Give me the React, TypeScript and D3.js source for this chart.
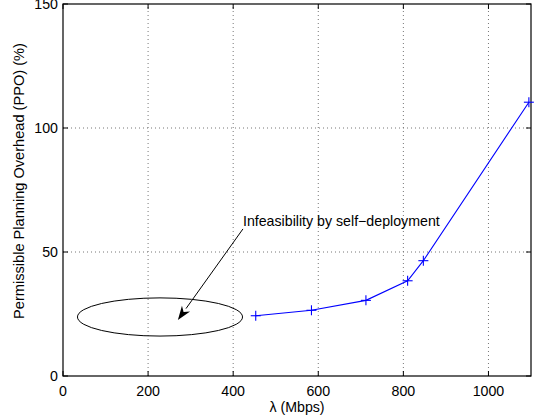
import React from "react";
import * as d3 from "d3";

// data
const lambdaMbps = [453, 584, 712, 810, 847, 1095];
const ppoPercent = [24.3, 26.5, 30.5, 38.4, 46.5, 110.4];
const xTicks = [0, 200, 400, 600, 800, 1000];
const yTicks = [0, 50, 100, 150];
const annotationText = "Infeasibility by self\u2212deployment";

function App() {
  const width = 537;
  const height = 418;
  const margin = { top: 4, right: 6, bottom: 42, left: 63 };

  const xScale = d3.scaleLinear().domain([0, 1100]).range([margin.left, width - margin.right]);
  const yScale = d3.scaleLinear().domain([0, 150]).range([height - margin.bottom, margin.top]);

  const pts = lambdaMbps.map((x, i) => [x, ppoPercent[i]] as [number, number]);
  const lineGen = d3.line<[number, number]>().x(d => xScale(d[0])).y(d => yScale(d[1]));

  const x0 = xScale(0), x1 = xScale(1100);
  const y0 = yScale(0), y1 = yScale(150);
  const font = "'Liberation Sans', Arial, sans-serif";
  const fs = 14.2;

  // ellipse marking the infeasible region (data units)
  const ell = { cx: 228, cy: 23.8, rx: 194, ry: 7.7 };
  const arrowFrom: [number, number] = [423, 59.3];
  const arrowTo: [number, number] = [270, 22.6];
  const ax1 = xScale(arrowFrom[0]), ay1 = yScale(arrowFrom[1]);
  const ax2 = xScale(arrowTo[0]), ay2 = yScale(arrowTo[1]);
  const ang = Math.atan2(ay2 - ay1, ax2 - ax1);
  const hl = 14, hw = 5;
  const bx = ax2 - hl * Math.cos(ang), by = ay2 - hl * Math.sin(ang);
  const nx = -Math.sin(ang), ny = Math.cos(ang);
  const head = `M${ax2},${ay2} L${bx + nx * hw},${by + ny * hw} L${ax2 - 0.7 * hl * Math.cos(ang)},${ay2 - 0.7 * hl * Math.sin(ang)} L${bx - nx * hw},${by - ny * hw} Z`;

  return (
    <svg width={width} height={height} style={{ position: "absolute", left: 0, top: 0, background: "#fff" }}>
      {/* grid */}
      {xTicks.filter(t => t > 0).map(t => (
        <line key={"gx" + t} x1={xScale(t)} x2={xScale(t)} y1={y0} y2={y1} stroke="#777" strokeWidth={1} strokeDasharray="1,3" />
      ))}
      {yTicks.filter(t => t > 0 && t < 150).map(t => (
        <line key={"gy" + t} x1={x0} x2={x1} y1={yScale(t)} y2={yScale(t)} stroke="#777" strokeWidth={1} strokeDasharray="1,3" />
      ))}

      {/* ticks on all four sides */}
      {xTicks.map(t => (
        <g key={"tx" + t}>
          <line x1={xScale(t)} x2={xScale(t)} y1={y0} y2={y0 - 5} stroke="#000" />
          <line x1={xScale(t)} x2={xScale(t)} y1={y1} y2={y1 + 5} stroke="#000" />
          <text x={xScale(t)} y={y0 + 20} textAnchor="middle" fontSize={fs} fontFamily={font}>{t}</text>
        </g>
      ))}
      {yTicks.map(t => (
        <g key={"ty" + t}>
          <line x1={x0} x2={x0 + 5} y1={yScale(t)} y2={yScale(t)} stroke="#000" />
          <line x1={x1} x2={x1 - 5} y1={yScale(t)} y2={yScale(t)} stroke="#000" />
          <text x={x0 - 5} y={yScale(t) + 5} textAnchor="end" fontSize={fs} fontFamily={font}>{t}</text>
        </g>
      ))}

      <rect x={x0} y={y1} width={x1 - x0} height={y0 - y1} fill="none" stroke="#000" strokeWidth={1.2} />

      {/* series */}
      <path d={lineGen(pts) ?? ""} fill="none" stroke="#0000ff" strokeWidth={1.1} />
      {pts.map((d, i) => (
        <g key={i} stroke="#0000ff" strokeWidth={1.1}>
          <line x1={xScale(d[0]) - 5} x2={xScale(d[0]) + 5} y1={yScale(d[1])} y2={yScale(d[1])} />
          <line x1={xScale(d[0])} x2={xScale(d[0])} y1={yScale(d[1]) - 5} y2={yScale(d[1]) + 5} />
        </g>
      ))}

      {/* annotation */}
      <ellipse cx={xScale(ell.cx)} cy={yScale(ell.cy)} rx={xScale(ell.rx) - xScale(0)} ry={yScale(0) - yScale(ell.ry)} fill="none" stroke="#000" strokeWidth={1} />
      <line x1={ax1} y1={ay1} x2={bx} y2={by} stroke="#000" strokeWidth={1} />
      <path d={head} fill="#000" />
      <text x={xScale(423)} y={yScale(60.3)} fontSize={fs} fontFamily={font}>{annotationText}</text>

      {/* axis labels */}
      <text x={(x0 + x1) / 2} y={412} textAnchor="middle" fontSize={fs} fontFamily={font}>λ (Mbps)</text>
      <text transform="translate(24, 181) rotate(-90)" textAnchor="middle" fontSize={14.6} fontFamily={font}>
        Permissible Planning Overhead (PPO) (%)
      </text>
    </svg>
  );
}

export default App;
